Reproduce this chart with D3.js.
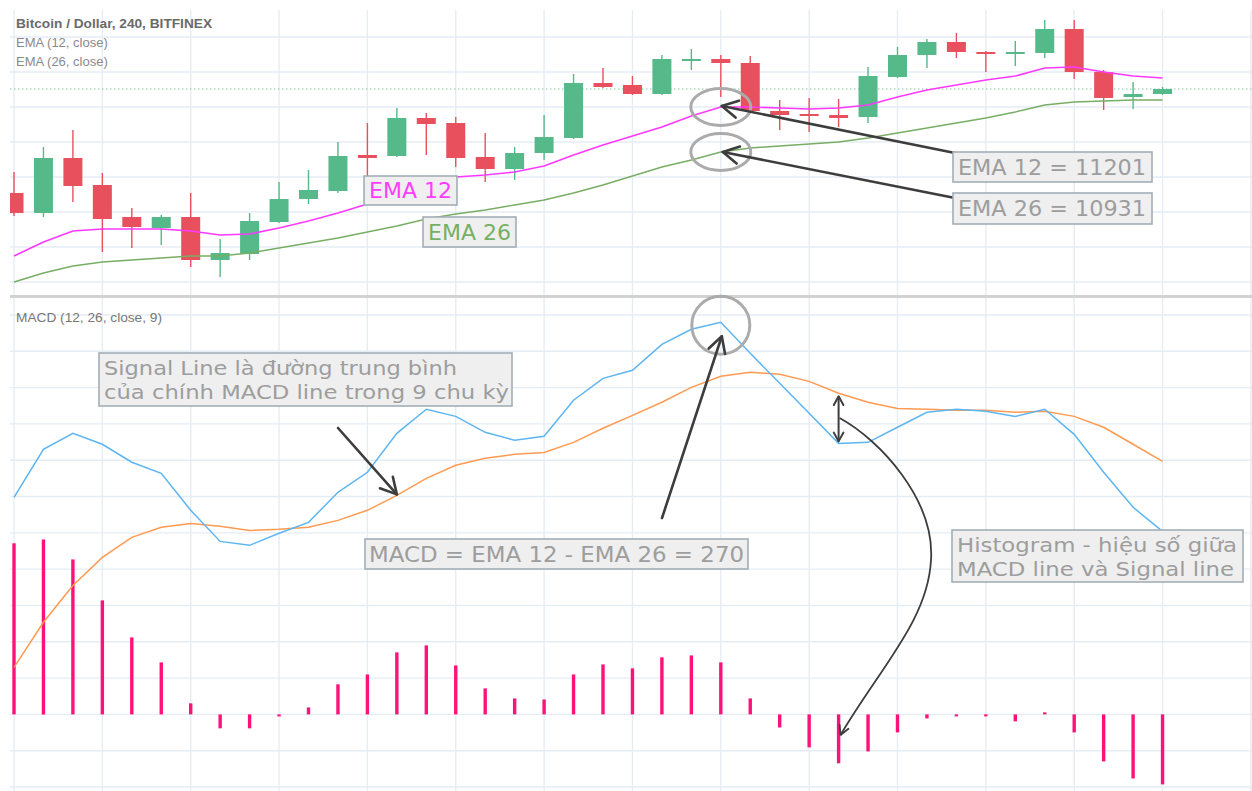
<!DOCTYPE html>
<html><head><meta charset="utf-8">
<script src="https://cdn.jsdelivr.net/npm/d3@7"></script>
<style>html,body{margin:0;padding:0;background:#fff;} svg{display:block;}</style>
</head><body>
<svg id="chart" width="1252" height="791"></svg>
<script>
// ---------- DATA ----------
const candleOpen  = [10685,10565,10895,10733,10541,10475,10541,10283,10319,10511,10649,10697,10913,10907,11135,11105,10901,10829,10925,11015,11345,11333,11279,11477,11489,11465,11177,11159,11153,11141,11381,11513,11591,11531,11519,11525,11669,11411,11261,11279];
const candleHigh  = [10811,10961,11063,10805,10595,10553,10685,10409,10565,10751,10823,10991,11105,11195,11165,11141,11045,10961,11153,11399,11435,11387,11513,11549,11513,11507,11243,11255,11249,11441,11561,11609,11645,11537,11597,11723,11723,11423,11351,11321];
const candleLow   = [10547,10541,10631,10331,10355,10373,10241,10181,10283,10505,10619,10685,10781,10901,10913,10841,10751,10763,10883,11009,11315,11273,11273,11423,11261,11171,11063,11051,11081,11105,11375,11435,11495,11411,11447,11495,11369,11183,11189,11273];
const candleClose = [10565,10895,10727,10529,10481,10541,10283,10325,10517,10649,10703,10907,10895,11135,11099,10895,10829,10925,11021,11345,11321,11279,11489,11489,11465,11177,11153,11147,11135,11387,11513,11591,11531,11519,11531,11669,11411,11255,11279,11309];
const ema12 = [10307,10391,10457,10469,10469,10469,10457,10433,10439,10475,10517,10565,10619,10691,10745,10781,10793,10811,10847,10913,10973,11027,11081,11147,11201,11201,11195,11189,11195,11213,11261,11303,11333,11363,11387,11435,11441,11411,11387,11375];
const ema26 = [10151,10205,10247,10271,10283,10295,10307,10307,10325,10355,10385,10415,10451,10487,10529,10559,10583,10613,10643,10685,10733,10787,10841,10883,10931,10955,10967,10979,10991,11015,11045,11075,11105,11135,11171,11213,11231,11237,11243,11243];
const macdLine   = [149.4,182.5,193.5,186.0,173.6,166.0,140.5,119.1,116.4,124.7,132.2,152.9,166.7,193.5,210.1,205.2,194.2,188.7,191.5,216.3,231.4,236.9,254.8,265.2,270.0,248.6,228.0,207.3,186.6,187.3,197.7,208.0,210.1,208.7,205.2,210.1,192.8,166.7,142.6,126.0];
const signalLine = [32.4,63.4,88.8,108.1,121.9,128.8,131.5,129.5,126.7,127.4,128.8,133.6,140.5,150.8,162.5,171.5,176.3,179.1,180.4,187.3,197.0,205.9,214.9,225.2,232.8,235.5,234.2,229.3,221.1,214.9,210.7,210.1,209.4,209.4,208.0,208.7,205.2,197.7,186.0,174.2];
const histogram  = [117.8,120.5,106.7,78.5,53.0,35.8,7.6,-9.6,-9.6,-1.4,4.8,20.7,27.5,42.7,47.5,33.7,17.9,11.0,10.3,27.5,34.4,31.7,39.3,40.6,35.8,11.0,-9.0,-22.7,-33.7,-25.5,-12.4,-2.8,-1.0,-1.0,-4.8,1.4,-12.4,-32.4,-44.1,-48.2];
const priceGridLevels = [11621,11411,11201,10991,10781,10571,10361,10151];
const macdGridLevels  = [275,250,225,200,175,150,125,100,75,50,25,0,-25,-50];
const lastClose = 11309;
const headerLines = ["Bitcoin / Dollar, 240, BITFINEX", "EMA (12, close)", "EMA (26, close)"];
const macdTitle = "MACD (12, 26, close, 9)";
const noteEma12 = "EMA 12", noteEma26 = "EMA 26";
const noteEma12Val = "EMA 12 = 11201", noteEma26Val = "EMA 26 = 10931";
const noteSignal = ["Signal Line là đường trung bình", "của chính MACD line trong 9 chu kỳ"];
const noteMacd = "MACD = EMA 12 - EMA 26 = 270";
const noteHist = ["Histogram - hiệu số giữa", "MACD line và Signal line"];

// ---------- LAYOUT ----------
const W = 1252, H = 791;
const L = 10, R = 1252;
const top1 = 10, bot1 = 295, top2 = 298, bot2 = 791;
const n = candleClose.length;
const x = d3.scaleLinear().domain([0, 42]).range([14, 14 + 42 * 29.45]);
const yP = d3.scaleLinear().domain([10067, 11783]).range([296, 10]);
const yM = d3.scaleLinear().domain([-50, 275]).range([787, 315]);

const svg = d3.select("#chart");
svg.append("rect").attr("width", W).attr("height", H).attr("fill", "#fff");
const defs = svg.append("defs");
defs.append("clipPath").attr("id", "clipTop").append("rect").attr("x", L).attr("y", top1).attr("width", R - L).attr("height", bot1 - top1);
defs.append("clipPath").attr("id", "clipBot").append("rect").attr("x", L).attr("y", top2).attr("width", R - L).attr("height", bot2 - top2);

const gridColor = "#e5edf4";
const vTicks = d3.range(0, 43, 3);
svg.append("g").selectAll("line").data(vTicks).join("line")
  .attr("x1", d => x(d)).attr("x2", d => x(d)).attr("y1", top1).attr("y2", H)
  .attr("stroke", gridColor).attr("stroke-width", 1.4);
svg.append("g").selectAll("line").data(priceGridLevels).join("line")
  .attr("x1", L).attr("x2", R).attr("y1", d => yP(d)).attr("y2", d => yP(d))
  .attr("stroke", gridColor).attr("stroke-width", 1.4);
svg.append("g").selectAll("line").data(macdGridLevels).join("line")
  .attr("x1", L).attr("x2", R).attr("y1", d => yM(d)).attr("y2", d => yM(d))
  .attr("stroke", gridColor).attr("stroke-width", 1.4);

svg.append("rect").attr("x", L).attr("y", 295).attr("width", R - L).attr("height", 3).attr("fill", "#d2d2d2");

// ---------- TOP PANEL ----------
const gTop = svg.append("g").attr("clip-path", "url(#clipTop)");
gTop.append("line").attr("x1", L).attr("x2", R).attr("y1", yP(lastClose)).attr("y2", yP(lastClose))
  .attr("stroke", "#7cc9a0").attr("stroke-width", 1).attr("stroke-dasharray", "1.5,2.5");

const idx = d3.range(n);
const up = i => candleClose[i] >= candleOpen[i];
const green = "#55b989", red = "#e9505e";
gTop.append("g").selectAll("line").data(idx).join("line")
  .attr("x1", i => x(i)).attr("x2", i => x(i))
  .attr("y1", i => yP(candleHigh[i])).attr("y2", i => yP(candleLow[i]))
  .attr("stroke", i => up(i) ? green : red).attr("stroke-width", 1.4);
const bw = 19;
gTop.append("g").selectAll("rect").data(idx).join("rect")
  .attr("x", i => x(i) - bw / 2).attr("width", bw)
  .attr("y", i => yP(Math.max(candleOpen[i], candleClose[i])))
  .attr("height", i => Math.max(2, Math.abs(yP(candleOpen[i]) - yP(candleClose[i]))))
  .attr("fill", i => up(i) ? green : red);

const lineP = arr => d3.line().x((d, i) => x(i)).y(d => yP(d))(arr);
gTop.append("path").attr("d", lineP(ema26)).attr("fill", "none").attr("stroke", "#78ae64").attr("stroke-width", 1.4);
gTop.append("path").attr("d", lineP(ema12)).attr("fill", "none").attr("stroke", "#ff38ff").attr("stroke-width", 1.6);

const hdr = svg.append("g").attr("font-family", "'Liberation Sans', Arial, sans-serif").attr("font-size", 13);
hdr.append("text").attr("x", 16).attr("y", 28).attr("fill", "#6a6a6a").attr("font-weight", "bold")
  .attr("textLength", 196).attr("lengthAdjust", "spacingAndGlyphs").text(headerLines[0]);
hdr.append("text").attr("x", 16).attr("y", 47).attr("fill", "#8a8a8a").text(headerLines[1]);
hdr.append("text").attr("x", 16).attr("y", 66).attr("fill", "#8a8a8a").text(headerLines[2]);
hdr.append("text").attr("x", 16).attr("y", 322).attr("fill", "#777").attr("textLength", 146).attr("lengthAdjust", "spacingAndGlyphs").text(macdTitle);

// ---------- BOTTOM PANEL ----------
const gBot = svg.append("g").attr("clip-path", "url(#clipBot)");
gBot.append("g").selectAll("line").data(idx).join("line")
  .attr("x1", i => x(i)).attr("x2", i => x(i))
  .attr("y1", yM(0)).attr("y2", i => Math.abs(yM(histogram[i]) - yM(0)) < 2 ? yM(0) + (histogram[i] >= 0 ? -2 : 2) : yM(histogram[i]))
  .attr("stroke", "#ff117a").attr("stroke-width", 3.4);
const lineM = arr => d3.line().x((d, i) => x(i)).y(d => yM(d))(arr);
gBot.append("path").attr("d", lineM(signalLine)).attr("fill", "none").attr("stroke", "#ff9a52").attr("stroke-width", 1.5);
gBot.append("path").attr("d", lineM(macdLine)).attr("fill", "none").attr("stroke", "#5db5f2").attr("stroke-width", 1.5);

// ---------- ANNOTATIONS ----------
const ann = svg.append("g");
const arrowColor = "#3d3d3d";
function arrowHead(g, x1, y1, x2, y2, len, w) {
  const a = Math.atan2(y2 - y1, x2 - x1);
  const p1 = [x2 - len * Math.cos(a - 0.5), y2 - len * Math.sin(a - 0.5)];
  const p2 = [x2 - len * Math.cos(a + 0.5), y2 - len * Math.sin(a + 0.5)];
  g.append("path").attr("d", `M${p1[0]},${p1[1]}L${x2},${y2}L${p2[0]},${p2[1]}`)
    .attr("fill", "none").attr("stroke", arrowColor).attr("stroke-width", w).attr("stroke-linejoin", "round").attr("stroke-linecap", "round");
}
function arrow(g, x1, y1, x2, y2, len = 18, w = 2.6) {
  g.append("line").attr("x1", x1).attr("y1", y1).attr("x2", x2).attr("y2", y2)
    .attr("stroke", arrowColor).attr("stroke-width", w).attr("stroke-linecap", "round");
  arrowHead(g, x1, y1, x2, y2, len, w);
}

const ringColor = "#ababab";
ann.append("ellipse").attr("cx", x(24)).attr("cy", yP(ema12[24])).attr("rx", 30).attr("ry", 18.5)
  .attr("fill", "none").attr("stroke", ringColor).attr("stroke-width", 3);
ann.append("ellipse").attr("cx", x(24)).attr("cy", yP(ema26[24])).attr("rx", 30).attr("ry", 18.5)
  .attr("fill", "none").attr("stroke", ringColor).attr("stroke-width", 3);
ann.append("circle").attr("cx", x(24)).attr("cy", yM(macdLine[24]) + 3).attr("r", 29)
  .attr("fill", "none").attr("stroke", ringColor).attr("stroke-width", 3);

arrow(ann, 955, 153, x(24) + 1, yP(ema12[24]) - 1);
arrow(ann, 955, 198, x(24) + 2, yP(ema26[24]));
arrow(ann, 338, 428, x(13), yM(signalLine[13]) - 1);
arrow(ann, 662, 518, x(24) + 1, yM(macdLine[24]) + 14);
const dax = x(28);
ann.append("line").attr("x1", dax).attr("x2", dax).attr("y1", yM(signalLine[28]) + 3).attr("y2", yM(macdLine[28]) - 2)
  .attr("stroke", arrowColor).attr("stroke-width", 2);
arrowHead(ann, dax, yM(macdLine[28]), dax, yM(signalLine[28]) + 3, 10, 2);
arrowHead(ann, dax, yM(signalLine[28]), dax, yM(macdLine[28]) - 2, 10, 2);
const tipX = x(28) + 2, tipY = yM(histogram[28] * 0.42);
ann.append("path").attr("d", `M${dax + 1},418 C880,440 935,500 931,560 C928,620 880,668 ${tipX},${tipY}`)
  .attr("fill", "none").attr("stroke", arrowColor).attr("stroke-width", 1.8);
arrowHead(ann, 852, 708, tipX, tipY, 10, 1.8);

const boxFill = "#efefef", boxStroke = "#a3adb7", txtGray = "#9d9d9d";
const font = "'DejaVu Sans', Verdana, sans-serif";
function box(x0, y0, x1, y1) {
  ann.append("rect").attr("x", x0).attr("y", y0).attr("width", x1 - x0).attr("height", y1 - y0)
    .attr("fill", boxFill).attr("stroke", boxStroke).attr("stroke-width", 1.6);
}
function txt(tx, ty, s, color, len) {
  const t = ann.append("text").attr("x", tx).attr("y", ty).attr("font-family", font).attr("font-size", 22)
    .attr("fill", color).text(s);
  if (len) t.attr("textLength", len).attr("lengthAdjust", "spacingAndGlyphs");
}
// two-line note: separate texts with a line step large enough not to collide
function txt2(tx, ty, lines, color, lens, dy, fs) {
  lines.forEach((s, k) => {
    ann.append("text").attr("x", tx).attr("y", ty + k * dy).attr("font-family", font).attr("font-size", fs)
      .attr("fill", color).attr("textLength", lens[k]).attr("lengthAdjust", "spacingAndGlyphs").text(s);
  });
}
box(364, 176, 457, 205); txt(369, 198, noteEma12, "#ff3cff", 83);
box(423, 217, 516, 247); txt(428, 240, noteEma26, "#76b064", 83);
box(953, 152, 1152, 182); txt(958, 175, noteEma12Val, txtGray, 188);
box(953, 193, 1152, 224); txt(958, 216, noteEma26Val, txtGray, 188);
box(99, 353, 512, 406); txt2(104, 375, noteSignal, txtGray, [353, 405], 23.5, 20);
box(365, 539, 748, 569); txt(369, 562, noteMacd, txtGray, 375);
box(952, 530, 1243, 582); txt2(957, 552, noteHist, txtGray, [280, 277], 23.5, 20);
</script>
</body></html>
